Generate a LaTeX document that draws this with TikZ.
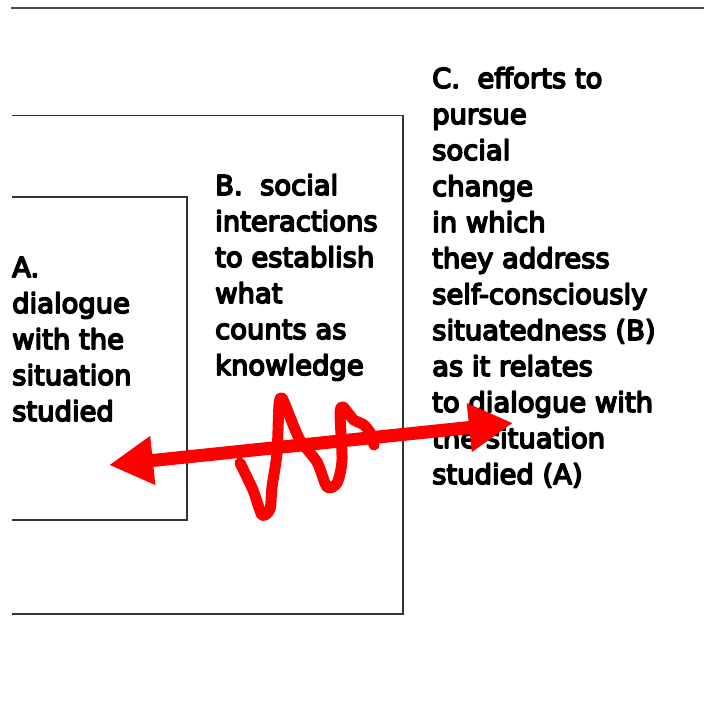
\documentclass[tikz,border=0pt]{standalone}
\usepackage{fontspec}
\newfontfamily\labfont{DejaVu Sans}
% heavier strokes: fill and outline the glyphs
\newcommand\heavytext[1]{\special{pdf:literal direct q 2 Tr 1.6 w 1 j 0 0 0 RG}#1\special{pdf:literal direct Q}}
\usetikzlibrary{arrows.meta}
\begin{document}
\begin{tikzpicture}[x=1pt,y=-1pt,
  boxline/.style={draw=black!80, line width=1.3pt},
  topline/.style={draw=black!70, line width=2pt},
  lbl/.style={anchor=base west, inner sep=0pt, align=left,
    font=\labfont\fontsize{27.4}{36}\selectfont},
  bigarrow/.style={draw=red, line width=13pt,
    {Triangle[length=44pt,width=46pt]}-{Triangle[length=44pt,width=46pt]}},
  scribble/.style={draw=red, line width=11pt, line cap=round, line join=round}]
\useasboundingbox (0,0) rectangle (704,720);

% rule across the top
\coordinate (r1) at (11,7.5);
\coordinate (r2) at (704,7.5);
\draw[topline] (r1) -- (r2);

% outer frame (open on the left)
\coordinate (o1) at (12,115.5);
\coordinate (o2) at (403,115.5);
\coordinate (o3) at (403,614);
\coordinate (o4) at (12,614);
\draw[boxline] (o1) -- (o2) -- (o3) -- (o4);

% inner frame (open on the left)
\coordinate (i1) at (12,197);
\coordinate (i2) at (187,197);
\coordinate (i3) at (187,520);
\coordinate (i4) at (12,520);
\draw[boxline] (i1) -- (i2) -- (i3) -- (i4);

% text blocks (anchored on the baseline of their last line)
\node[lbl] (ta) at (12,421) {\heavytext{A.\\dialogue\\with the\\situation\\studied}};
\node[lbl] (tb) at (215,375) {\heavytext{B.\ \ social\\interactions\\to establish\\what\\counts as\\knowledge}};
\node[lbl] (tc) at (432,484) {\heavytext{C.\ \ efforts to\\pursue\\social\\change\\in which\\they address\\self-consciously\\situatedness (B)\\as it relates\\to dialogue with\\the situation\\studied (A)}};

% double-headed arrow
\coordinate (aL) at (109,465);
\coordinate (aR) at (513,423);
\draw[bigarrow] (aL) -- (aR);

% freehand scribble across the arrow
\draw[scribble] plot[smooth, tension=0.45] coordinates {
  (240,463) (253,490) (262,515) (270,509) (272,487) (277,453)
  (279,405) (282,398) (290,417) (300,440) (317,462) (327,487)
  (337,483) (342,460) (340,413) (343,407) (348,413) (354,420)
  (364,425) (371,434) (374,445)};
\end{tikzpicture}
\end{document}
